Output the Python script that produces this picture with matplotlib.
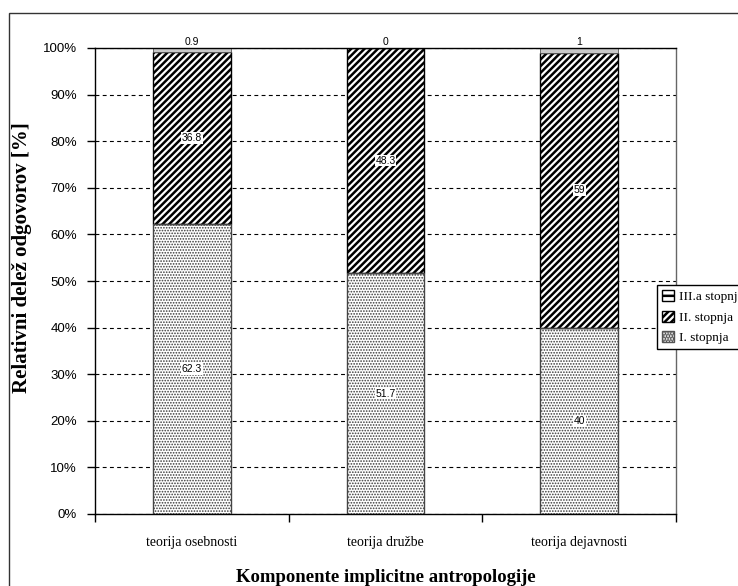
import matplotlib.pyplot as plt
from matplotlib.patches import Patch, Rectangle
import numpy as np

# data
categories = ["teorija osebnosti", "teorija družbe", "teorija dejavnosti"]
stopnja_1 = [62.3, 51.7, 40.0]
stopnja_2 = [36.8, 48.3, 59.0]
stopnja_3a = [0.9, 0.0, 1.0]
series_names = ["I. stopnja", "II. stopnja", "III.a stopnja"]
y_ticks = [0, 10, 20, 30, 40, 50, 60, 70, 80, 90, 100]

plt.rcParams["hatch.linewidth"] = 1.8

fig = plt.figure(figsize=(7.38, 5.86), dpi=100)
ax = fig.add_axes([95 / 738, 1 - 514 / 586, 581 / 738, 466 / 586])

x = np.arange(len(categories))
width = 0.4


def thin_hatch(patches, lw):
    # finer dots for the dotted series, if this matplotlib supports it
    for p in patches:
        if hasattr(p, "set_hatch_linewidth"):
            p.set_hatch_linewidth(lw)


# I. stopnja - fine gray dots (hatch drawn in gray, outline in black)
dots = ax.bar(x, stopnja_1, width, color="white", edgecolor="#3a3a3a", hatch="......",
              linewidth=0, zorder=2)
thin_hatch(dots, 0.8)
ax.bar(x, stopnja_1, width, fill=False, edgecolor="#444444", linewidth=1, zorder=3)

# II. stopnja - black diagonal stripes
ax.bar(x, stopnja_2, width, bottom=stopnja_1, color="white", edgecolor="black",
       hatch="/////", linewidth=1, zorder=2)

# III.a stopnja - thin gray strip
bottom_3 = np.array(stopnja_1) + np.array(stopnja_2)
ax.bar(x, stopnja_3a, width, bottom=bottom_3, color="#c8c8c8", edgecolor="#555555",
       linewidth=0.6, zorder=2)

# value labels
for i in range(len(categories)):
    ax.text(x[i], stopnja_1[i] / 2, f"{stopnja_1[i]:g}", ha="center", va="center",
            fontsize=7.5, family="Liberation Sans", zorder=4,
            bbox=dict(facecolor="white", edgecolor="none", pad=0.6))
    ax.text(x[i], stopnja_1[i] + stopnja_2[i] / 2, f"{stopnja_2[i]:g}", ha="center",
            va="center", fontsize=7.5, family="Liberation Sans", zorder=4,
            bbox=dict(facecolor="white", edgecolor="none", pad=0.6))
    ax.annotate(f"{stopnja_3a[i]:g}", (x[i], 100), xytext=(0, 4.5),
                textcoords="offset points", ha="center", va="center",
                fontsize=7.5, family="Liberation Sans", annotation_clip=False)

ax.set_xlim(-0.5, len(categories) - 0.5)
ax.set_ylim(0, 100)
ax.set_yticks(y_ticks)
ax.set_yticklabels([f"{t}%" for t in y_ticks], family="Liberation Sans", fontsize=9.5)
ax.yaxis.grid(True, linestyle=(0, (3.5, 3)), color="black", linewidth=0.8)
ax.set_axisbelow(True)

ax.set_xticks(x)
ax.set_xticklabels(categories, family="Liberation Serif", fontsize=10)
ax.set_xticks(np.arange(-0.5, len(categories)), minor=True)
ax.tick_params(axis="x", which="major", length=0, pad=16)
ax.tick_params(axis="x", which="minor", length=6, width=1, direction="out")
ax.tick_params(axis="y", length=6, width=1, direction="out", pad=7)

for side in ["left", "right", "top", "bottom"]:
    ax.spines[side].set_linewidth(1)
    ax.spines[side].set_color("black")
ax.spines["right"].set_color("#666666")

ax.set_ylabel("Relativni delež odgovorov [%]", family="Liberation Serif",
              fontweight="bold", fontsize=15, labelpad=14)
ax.yaxis.set_label_coords(-0.108, 0.55)
ax.set_xlabel("Komponente implicitne antropologije", family="Liberation Serif",
              fontweight="bold", fontsize=13.5, labelpad=14)

# legend (reversed order, partly cut off at the right)
handles = [
    Patch(facecolor="white", edgecolor="black", hatch="--", label=series_names[2]),
    Patch(facecolor="white", edgecolor="black", hatch="/////", label=series_names[1]),
    Patch(facecolor="white", edgecolor="#555555", hatch="......", label=series_names[0]),
]
thin_hatch(handles[2:], 0.8)
leg = fig.legend(handles=handles, loc="upper left",
                 bbox_to_anchor=(657 / 738, 1 - 285 / 586),
                 prop={"family": "Liberation Serif", "size": 9.5},
                 frameon=True, fancybox=False, edgecolor="black", framealpha=1,
                 handlelength=0.9, handleheight=0.9, handletextpad=0.4,
                 borderpad=0.4, labelspacing=0.55, borderaxespad=0)
leg.get_frame().set_linewidth(1)
leg.set_zorder(10)

# outer chart border, cut off at the right and bottom
fig.patches.append(Rectangle((9 / 738, -0.1), 1.2, 1 - 13 / 586 + 0.1,
                             transform=fig.transFigure, fill=False,
                             edgecolor="#333333", linewidth=1))

fig.savefig("out.png", dpi=100)
